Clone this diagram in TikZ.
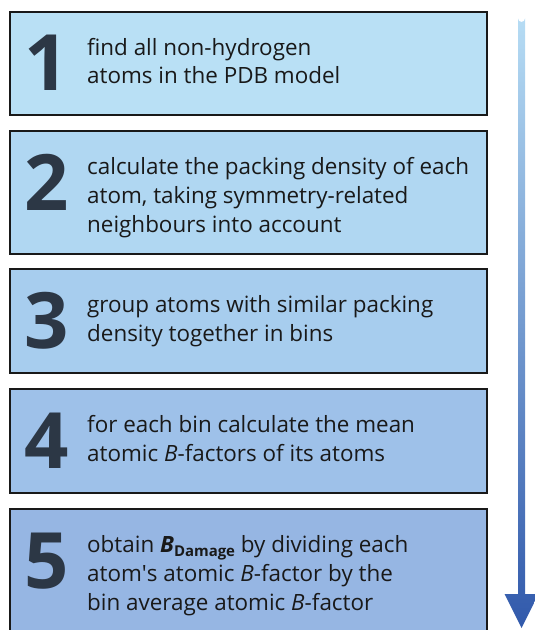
\documentclass[tikz,border=0pt]{standalone}
\usepackage{fontspec}
\setmainfont{Open Sans}
\usetikzlibrary{calc}
\definecolor{stepone}{HTML}{B9E0F5}
\definecolor{steptwo}{HTML}{B0D7F2}
\definecolor{stepthree}{HTML}{A7CDEE}
\definecolor{stepfour}{HTML}{9EC1E9}
\definecolor{stepfive}{HTML}{96B6E3}
\definecolor{numgray}{HTML}{2C3745}
\definecolor{flowlight}{HTML}{B6DCF4}
\definecolor{flowdark}{HTML}{3159AB}
\tikzset{
  stepbox/.style={
    draw=black!90,
    line width=1.6bp,
    minimum width=477bp,
    anchor=north west,
    inner sep=0pt
  },
  stepnum/.style={anchor=base, inner sep=0pt, text=numgray, font=\fontsize{78}{78}\selectfont\bfseries},
  steptext/.style={anchor=base west, inner sep=0pt, align=left, text=black!90, font=\fontsize{22.5}{29}\selectfont}
}
\newcommand{\bfac}{\textit{B}}
\newcommand{\bdamage}{\textbf{\textit{B}}\raisebox{-0.35ex}{\fontsize{15}{15}\selectfont\bfseries Damage}}

\begin{document}
\begin{tikzpicture}[x=1bp, y=-1bp]
  \useasboundingbox (0,0) rectangle (535,630);
  % the five steps
  \node[stepbox, fill=stepone,   minimum height=103bp] (box1) at (9,11)  {};
  \node[stepbox, fill=steptwo,   minimum height=123bp] (box2) at (9,130) {};
  \node[stepbox, fill=stepthree, minimum height=104bp] (box3) at (9,268) {};
  \node[stepbox, fill=stepfour,  minimum height=104bp] (box4) at (9,388) {};
  \node[stepbox, fill=stepfive,  minimum height=126bp] (box5) at (9,508) {};

  \node[stepnum] (num1) at ($(box1.north west)+(38,80)$) {1};
  \node[stepnum] (num2) at ($(box2.north west)+(38,80)$) {2};
  \node[stepnum] (num3) at ($(box3.north west)+(38,80)$) {3};
  \node[stepnum] (num4) at ($(box4.north west)+(38,80)$) {4};
  \node[stepnum] (num5) at ($(box5.north west)+(38,80)$) {5};

  % base anchor sits on the last line
  \node[steptext] (txt1) at ($(box1.north west)+(78,73)$)  {find all non-hydrogen\\atoms in the PDB model};
  \node[steptext] (txt2) at ($(box2.north west)+(78,102)$) {calculate the packing density of each\\atom, taking symmetry-related\\neighbours into account};
  \node[steptext] (txt3) at ($(box3.north west)+(78,73)$)  {group atoms with similar packing\\density together in bins};
  \node[steptext] (txt4) at ($(box4.north west)+(78,73)$)  {for each bin calculate the mean\\atomic \bfac-factors of its atoms};
  \node[steptext] (txt5) at ($(box5.north west)+(78,102)$) {obtain \bdamage{} by dividing each\\atom\textquotesingle s atomic \bfac-factor by the\\bin average atomic \bfac-factor};

  % flow arrow on the right
  \coordinate (flowtop) at (521.5,18.5);
  \coordinate (flowtip) at (521.5,628);
  \shade[top color=flowlight, bottom color=flowdark]
    ($(flowtip)+(-3.5,-34)$) -- ($(flowtop)+(-3.5,0)$)
    arc[start angle=180, end angle=0, radius=3.5]
    -- ($(flowtip)+(3.5,-34)$) -- ($(flowtip)+(17,-34)$)
    -- (flowtip) -- ($(flowtip)+(-17,-34)$) -- cycle;
\end{tikzpicture}
\end{document}
